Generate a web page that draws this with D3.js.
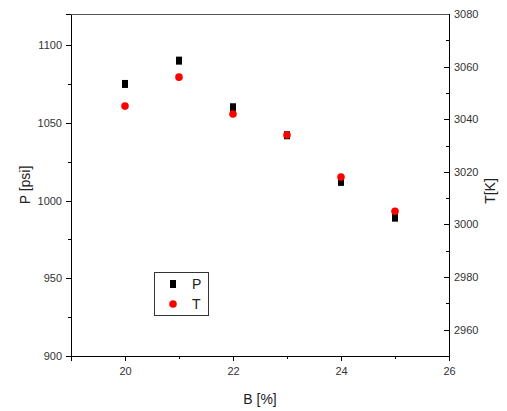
<!DOCTYPE html>
<html>
<meta charset="utf-8">
<head>
<style>
body { margin: 0; background: #fff; }
.axis text { font: 11px Arial, "Liberation Sans", sans-serif; fill: #333; }
.axis line, .axis path { stroke: #000; shape-rendering: crispEdges; }
.label { font: 14px Arial, "Liberation Sans", sans-serif; fill: #222; }
.legend text { font: 14px Arial, "Liberation Sans", sans-serif; fill: #222; }
</style>
</head>
<body>
<svg width="507" height="411"></svg>
<script src="https://d3js.org/d3.v7.min.js"></script>
<script>

var bValues = [20, 21, 22, 23, 24, 25];
var pValues = [1075, 1090, 1060, 1042, 1012, 989];
var tValues = [3045, 3056, 3042, 3034, 3018, 3005];

var svg = d3.select("svg"),
  plotLeft = 71, plotRight = 449, plotTop = 14, plotBottom = 356,
  fmt = d3.format("d");

var x = d3.scaleLinear().domain([19, 26]).range([plotLeft, plotRight]),
  yP = d3.scaleLinear().domain([900, 1120]).range([plotBottom, plotTop]),
  yT = d3.scaleLinear().domain([2950, 3080]).range([plotBottom, plotTop]);

// minor ticks first, then major ones on top
function minor(g, axis) { g.call(axis.tickFormat("")).select(".domain").remove(); }

svg.append("g").attr("class", "axis")
  .attr("transform", "translate(0," + plotBottom + ")")
  .call(minor, d3.axisBottom(x).tickValues([21, 23, 25]).tickSizeOuter(0).tickSize(3));
svg.append("g").attr("class", "axis")
  .attr("transform", "translate(0," + plotBottom + ")")
  .call(d3.axisBottom(x).tickValues([20, 22, 24, 26]).tickFormat(fmt).tickSizeOuter(0).tickSize(5).tickPadding(6));

svg.append("g").attr("class", "axis")
  .attr("transform", "translate(" + plotLeft + ",0)")
  .call(minor, d3.axisLeft(yP).tickValues([925, 975, 1025, 1075]).tickSize(3));
svg.append("g").attr("class", "axis")
  .attr("transform", "translate(" + plotLeft + ",0)")
  .call(d3.axisLeft(yP).tickValues([900, 950, 1000, 1050, 1100]).tickFormat(fmt).tickSizeOuter(0).tickSize(5).tickPadding(4));

svg.append("g").attr("class", "axis")
  .attr("transform", "translate(" + plotRight + ",0)")
  .call(minor, d3.axisRight(yT).tickValues([2970, 2990, 3010, 3030, 3050, 3070]).tickSize(-3));
var rAxis = svg.append("g").attr("class", "axis")
  .attr("transform", "translate(" + plotRight + ",0)")
  .call(d3.axisRight(yT).tickValues([2960, 2980, 3000, 3020, 3040, 3060, 3080]).tickFormat(fmt).tickSizeOuter(0).tickSize(-5));
rAxis.selectAll(".tick text").attr("x", 5);

svg.append("line")
  .attr("x1", plotLeft).attr("x2", plotRight).attr("y1", plotTop).attr("y2", plotTop)
  .attr("stroke", "#555").attr("shape-rendering", "crispEdges");

svg.append("text").attr("class", "label")
  .attr("transform", "translate(30," + ((plotTop + plotBottom) / 2) + ") rotate(-90)")
  .attr("text-anchor", "middle").text("P [psi]");
svg.append("text").attr("class", "label")
  .attr("transform", "translate(495," + ((plotTop + plotBottom) / 2 + 6) + ") rotate(-90)")
  .attr("text-anchor", "middle").text("T[K]");
svg.append("text").attr("class", "label")
  .attr("x", (plotLeft + plotRight) / 2).attr("y", 404)
  .attr("text-anchor", "middle").text("B [%]");

svg.append("g").selectAll("rect")
  .data(bValues).enter().append("rect")
  .attr("x", function(d) { return x(d) - 3; })
  .attr("y", function(d, i) { return yP(pValues[i]) - 4; })
  .attr("width", 6).attr("height", 8)
  .attr("fill", "#000");

svg.append("g").selectAll("circle")
  .data(bValues).enter().append("circle")
  .attr("cx", function(d) { return x(d); })
  .attr("cy", function(d, i) { return yT(tValues[i]); })
  .attr("r", 3.8)
  .attr("fill", "#f00");

// legend
var legend = svg.append("g").attr("class", "legend");
legend.append("rect")
  .attr("x", 154.5).attr("y", 272.5).attr("width", 54).attr("height", 43)
  .attr("fill", "#fff").attr("stroke", "#333");
legend.append("rect").attr("x", 170).attr("y", 280).attr("width", 6).attr("height", 8).attr("fill", "#000");
legend.append("circle").attr("cx", 173).attr("cy", 304).attr("r", 3.8).attr("fill", "#f00");
legend.append("text").attr("x", 192).attr("y", 289).text("P");
legend.append("text").attr("x", 192).attr("y", 309).text("T");

</script>
</body>
</html>
